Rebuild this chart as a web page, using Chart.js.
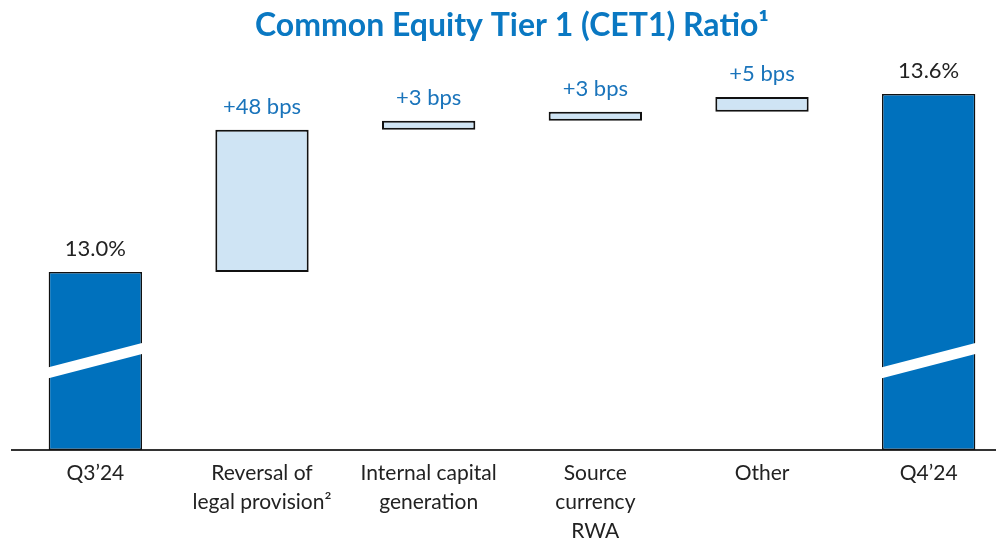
<!DOCTYPE html>
<html>
<head>
<meta charset="utf-8">
<script src="https://cdn.jsdelivr.net/npm/chart.js@4"></script>
<style>
  html, body { margin: 0; padding: 0; background: #fff; overflow: hidden; }
  #wrap { position: absolute; left: 0; top: 0; width: 1012px; height: 555px; }
</style>
</head>
<body>
<div id="wrap"><canvas id="cet1"></canvas></div>
<script>
// CET1 ratio walk, Q3'24 -> Q4'24
const categories = [
    ['Q3’24'],
    ['Reversal of', 'legal provision²'],
    ['Internal capital', 'generation'],
    ['Source', 'currency', 'RWA'],
    ['Other'],
    ['Q4’24']
];
const startRatio = 13.0;              // Q3'24, %
const endRatio = 13.6;                // Q4'24, %
const changesBps = [48, 3, 3, 5];     // steps in basis points
const valueLabels = ['13.0%', '+48 bps', '+3 bps', '+3 bps', '+5 bps', '13.6%'];

const axisMin = 12.4;     // axis is broken, bars start here
const axisMax = 13.7;
const breakValue = 12.72; // where the white break goes on the total bars

const darkBlue = '#0071bd';
const lightBlue = '#cfe4f4';
const labelBlue = '#1a74bb';

// build floating bars from the steps
const barData = [[axisMin, startRatio]];
let running = startRatio;
changesBps.forEach(bps => {
    const next = running + bps / 100;
    barData.push([running, next]);
    running = next;
});
barData.push([axisMin, endRatio]);

const isTotal = barData.map((d, i) => i === 0 || i === barData.length - 1);

const fontFamily = "Lato, 'Open Sans', sans-serif";

// white slanted break + value labels
const extras = {
    id: 'extras',
    afterDatasetsDraw(chart) {
        const ctx = chart.ctx;
        const meta = chart.getDatasetMeta(0);
        const yScale = chart.scales.y;
        const yBreak = yScale.getPixelForValue(breakValue);
        meta.data.forEach((bar, i) => {
            const left = bar.x - bar.width / 2;
            const right = bar.x + bar.width / 2;
            if (isTotal[i]) {
                const rise = bar.width * 0.27;
                const gap = 11;
                ctx.save();
                ctx.fillStyle = '#ffffff';
                ctx.beginPath();
                ctx.moveTo(left - 2, yBreak + rise / 2);
                ctx.lineTo(right + 2, yBreak - rise / 2);
                ctx.lineTo(right + 2, yBreak - rise / 2 + gap);
                ctx.lineTo(left - 2, yBreak + rise / 2 + gap);
                ctx.closePath();
                ctx.fill();
                ctx.restore();
            }
            const top = Math.min(bar.y, bar.base);
            ctx.save();
            ctx.font = '22px ' + fontFamily;
            ctx.fillStyle = isTotal[i] ? '#222222' : labelBlue;
            ctx.textAlign = 'center';
            ctx.textBaseline = 'bottom';
            ctx.fillText(valueLabels[i], bar.x, top - 12);
            ctx.restore();
        });
    }
};

new Chart(document.getElementById('cet1'), {
    type: 'bar',
    data: {
        labels: categories,
        datasets: [{
            data: barData,
            backgroundColor: isTotal.map(t => t ? darkBlue : lightBlue),
            borderColor: '#111111',
            borderWidth: isTotal.map(t => t ? 1.5 : 2),
            borderSkipped: false,
            categoryPercentage: 1,
            barPercentage: 0.56
        }]
    },
    options: {
        responsive: true,
        maintainAspectRatio: false,
        animation: false,
        layout: { padding: { left: 12, right: 0, top: 0, bottom: 0 } },
        scales: {
            x: {
                grid: { display: false, drawTicks: false },
                border: { display: true, color: '#333333', width: 2 },
                ticks: {
                    color: '#222222',
                    padding: 9,
                    maxRotation: 0,
                    autoSkip: false,
                    font: { family: fontFamily, size: 21, lineHeight: '29px' }
                }
            },
            y: {
                display: false,
                min: axisMin,
                max: axisMax
            }
        },
        plugins: {
            legend: { display: false },
            tooltip: { enabled: false },
            title: {
                display: true,
                text: 'Common Equity Tier 1 (CET1) Ratio¹',
                color: '#0a78c2',
                font: { family: fontFamily, size: 32, weight: 'bold', lineHeight: 1.2 },
                padding: { top: 6, bottom: 20 }
            }
        }
    },
    plugins: [extras]
});
</script>
</body>
</html>
